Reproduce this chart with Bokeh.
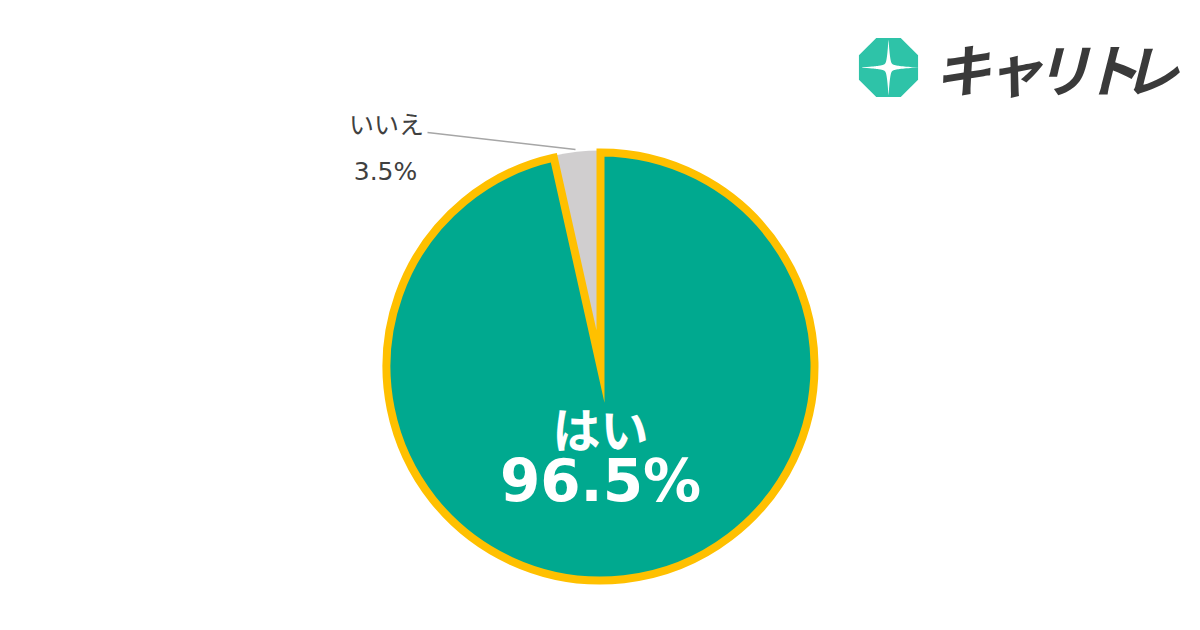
import numpy as np
from bokeh.plotting import figure
from bokeh.models import Range1d
from bokeh.core.properties import value
from bokeh.embed import file_html
from bokeh.resources import INLINE

# ---- data ----
labels = ["はい", "いいえ"]
values = [96.5, 3.5]
colors = ["#00A98F", "#D0CECF"]
logo_chars = ["キ", "ャ", "リ", "ト", "レ"]

W, H = 1184, 614
# plot is drawn at page (0,0): data x == page x, data y == 630 - page y
p = figure(width=W, height=H, x_range=Range1d(0, W), y_range=Range1d(630 - H, 630),
           output_backend="svg", toolbar_location=None, min_border=0)
p.axis.visible = False
p.grid.visible = False
p.outline_line_color = None
p.background_fill_color = "white"
p.border_fill_color = "white"

def Y(py):
    return 630 - py

cx, cy, r = 600, Y(366), 214

# angles: start at top, "いいえ" counter-clockwise of top, "はい" the rest
frac = np.array(values) / sum(values)
a_top = np.pi / 2
no_start = a_top
no_end = a_top + frac[1] * 2 * np.pi
yes_start = no_end
yes_end = a_top + 2 * np.pi

p.wedge(x=[cx], y=[cy], radius=r + 2, start_angle=[no_start], end_angle=[no_end],
        fill_color=colors[1], line_color=None)
p.wedge(x=[cx], y=[cy], radius=r, start_angle=[yes_start], end_angle=[yes_end],
        fill_color=colors[0], line_color="#FFC000", line_width=8, line_join="miter")

# leader line for いいえ
p.line(x=[427, 575], y=[Y(132), Y(149)], line_color="#A6A6A6", line_width=1.5)

p.text(x=[386], y=[Y(122)], text=[labels[1]], text_font=value("Noto Sans CJK JP"),
       text_font_size="25px", text_color="#404040", text_align="center", text_baseline="middle")
p.text(x=[385], y=[Y(171)], text=[f"{values[1]}%"], text_font=value("DejaVu Sans"),
       text_font_size="25px", text_color="#404040", text_align="center", text_baseline="middle")

p.text(x=[600], y=[Y(426)], text=[labels[0]], text_font=value("Noto Sans CJK JP"),
       text_font_size="48px", text_font_style="bold", text_color="white",
       text_align="center", text_baseline="middle")
p.text(x=[600], y=[Y(480)], text=[f"{values[0]}%"], text_font=value("DejaVu Sans"),
       text_font_size="58px", text_font_style="bold", text_color="white",
       text_align="center", text_baseline="middle")

# ---- logo ----
lx, ly, lr = 888, Y(67), 32
ang = np.pi / 8 + np.arange(8) * np.pi / 4
p.patch(x=lx + lr * np.cos(ang), y=ly + lr * np.sin(ang), fill_color="#2EC3A8", line_color=None)
t = np.linspace(0, 2 * np.pi, 400)
rs = 31 / (1 + 5.0 * np.abs(np.sin(2 * t)) ** 0.8)
p.patch(x=lx + rs * np.cos(t), y=ly + rs * np.sin(t), fill_color="white", line_color=None)

logo_x = [962, 1014, 1062, 1110, 1150]
p.text(x=logo_x, y=[Y(66)] * 5, text=logo_chars, text_font=value("Noto Sans CJK JP"),
       text_font_size="57px", text_font_style="bold italic", text_color="#3A3A3A",
       text_align="center", text_baseline="middle")

open("out.html", "w").write(file_html(p, INLINE))
